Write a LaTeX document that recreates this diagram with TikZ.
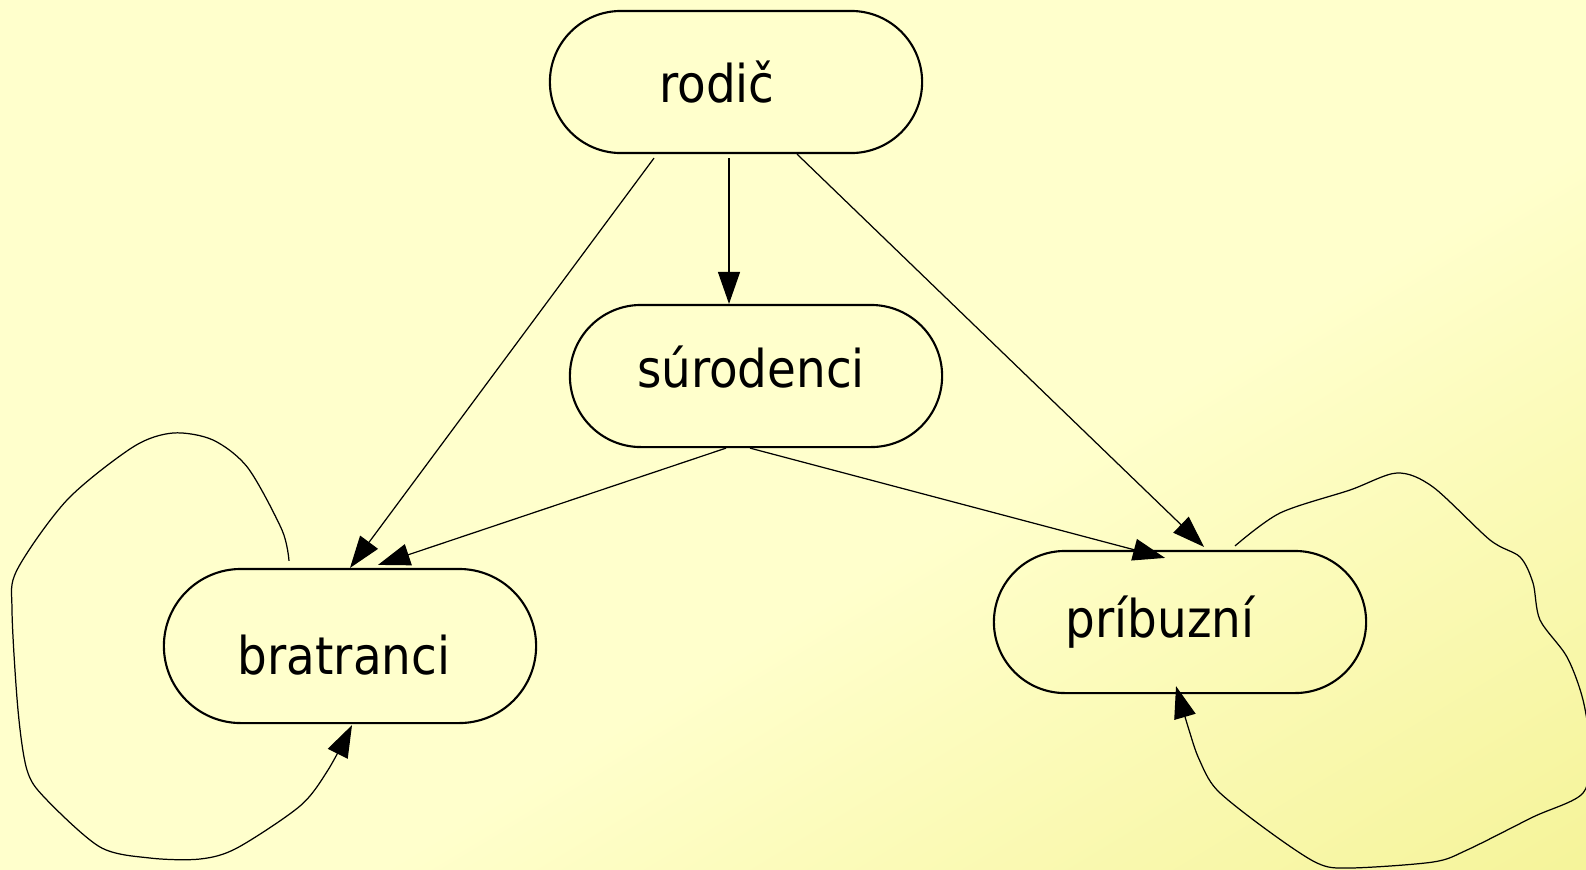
\documentclass[tikz,border=0pt]{standalone}
\usepackage{fontspec}
\setmainfont{DejaVu Sans Condensed}
\usetikzlibrary{arrows.meta}
\usetikzlibrary{shapes.misc}
\usetikzlibrary{calc}
\definecolor{pozadieA}{RGB}{255,255,204}
\definecolor{pozadieB}{RGB}{242,240,138}
\pgfdeclarehorizontalshading{pozadie}{100bp}{color(0bp)=(pozadieA); color(57bp)=(pozadieA); color(93bp)=(pozadieB); color(100bp)=(pozadieB)}

\begin{document}
\begin{tikzpicture}[x=0.01cm, y=-0.01cm,
	stav/.style={draw, line width=0.6pt, rounded rectangle, minimum width=3.72cm, minimum height=1.42cm, inner sep=0pt, font=\fontsize{14.8}{17}\selectfont},
	posun/.style={execute at end node={\hspace*{#1}}},
	sipka/.style={line width=0.35pt, -{Triangle[length=0.32cm,width=0.22cm]}}]
	\useasboundingbox (0,0) rectangle (1586,869);
	\shade[shading=pozadie, shading angle=-59] (0,0) rectangle (1586,869);
	\node[stav, posun=0.38cm] (rodic) at (736,82) {rodič};
	\node[stav, posun=0.1cm, text depth=0.18cm] (surodenci) at (756,376) {súrodenci};
	\node[stav, posun=0.12cm, minimum height=1.54cm, text height=0.58cm] (bratranci) at (350,646) {bratranci};
	\node[stav, posun=0.4cm] (pribuzni) at (1180,622) {príbuzní};
	\draw[sipka] ($(rodic.south)+(-82,4)$) -- (bratranci.north);
	\draw[sipka] ($(rodic.south)+(-7,4)$) -- ($(surodenci.north)+(-27,0)$);
	\draw[sipka] ($(rodic.south)+(61,0)$) -- ($(pribuzni.north)+(24,-3)$);
	\draw[sipka] ($(surodenci.south)+(-30,0)$) -- ($(bratranci.north)+(28,-3)$);
	\draw[sipka] ($(surodenci.south)+(-6,0)$) -- ($(pribuzni.north)+(-15,8)$);
	\coordinate (bratranciZ) at ($(bratranci.north)+(-61,-7)$);
	\coordinate (bratranciK) at ($(bratranci.south)+(2,1)$);
	\draw[sipka] plot[smooth] coordinates {(bratranciZ) (282,530) (248,468) (213,440) (173,433) (133,447) (67,500) (17,570) (12,610) (18,710) (27,770) (45,798) (100,847) (150,858) (200,859) (237,848) (300,806) (328,770) (bratranciK)};
	\coordinate (pribuzniZ) at ($(pribuzni.north)+(55,-4)$);
	\coordinate (pribuzniK) at ($(pribuzni.south)+(-4,-8)$);
	\draw[sipka] plot[smooth] coordinates {(pribuzniZ) (1280,513) (1350,490) (1397,473) (1433,487) (1490,540) (1520,557) (1533,583) (1540,620) (1567,657) (1583,700) (1590,750) (1583,793) (1533,817) (1467,850) (1433,862) (1350,868) (1317,863) (1267,830) (1217,790) (1199,759) (1189,730) (pribuzniK)};
\end{tikzpicture}
\end{document}
